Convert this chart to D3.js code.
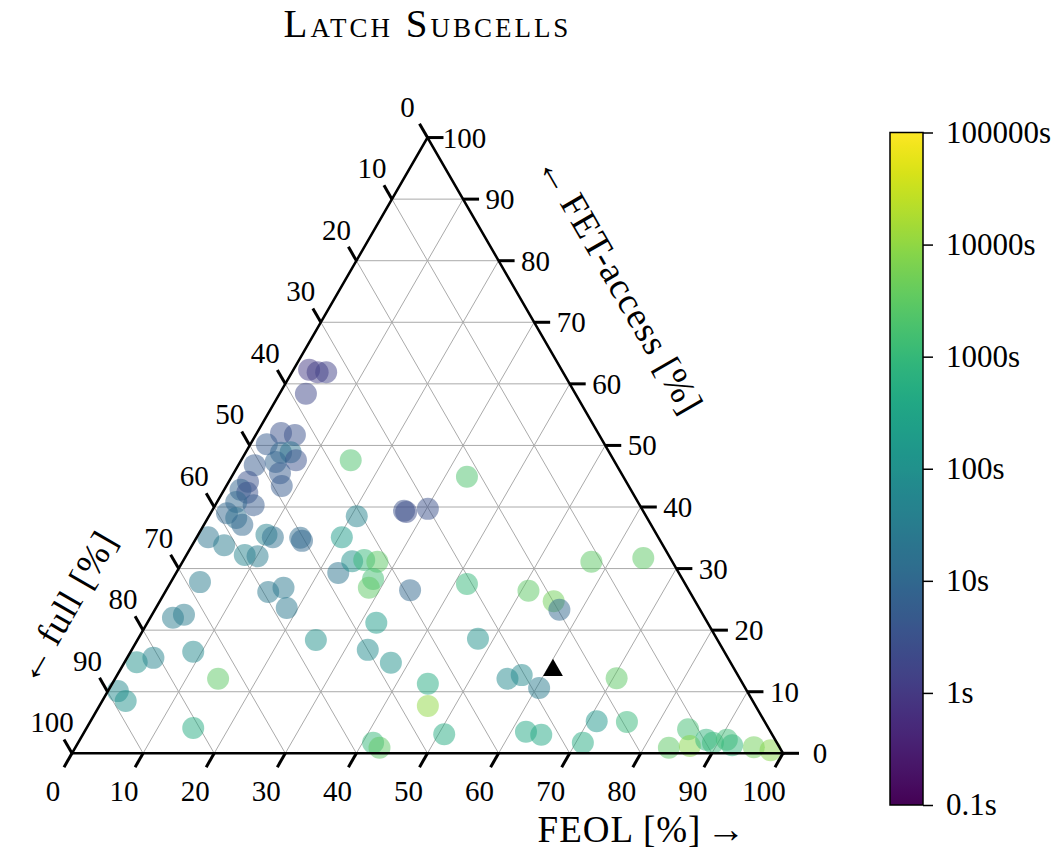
<!DOCTYPE html>
<html>
<head>
<meta charset="utf-8">
<script src="https://cdnjs.cloudflare.com/ajax/libs/d3/7.8.5/d3.min.js"></script>
<style>
  body { margin: 0; background: #fff; }
  text { font-family: "Liberation Serif", "DejaVu Serif", serif; fill: #000; }
  .arrow { font-family: "Liberation Serif", serif; font-size: 39px; }
</style>
</head>
<body>
<div id="chart"></div>
<script>
// ternary coordinates in percent, full = 100 - FEOL - FET-access
const feol = [2.2, 3.6, 4.8, 3.7, 3.4, 5.5, 2.3, 5.0, 6.3, 7.7, 5.0, 2.3, 6.5, 7.8, 2.7, 2.3, 3.5, 5.4, 2.7, 2.3,
  4.0, 5.4, 1.6, 4.5, 8.2, 10.1, 9.6, 10.7, 14.6, 15.1, 15.4, 33.1, 27.0, 27.4, 30.2, 20.8, 20.4, 22.8, 23.8, 25.4,
  27.4, 28.2, 28.3, 34.3, 41.8, 51.0, 55.4, 56.9, 57.5, 64.5, 32.2, 25.1, 33.2, 37.5, 47.8, 44.4, 46.2, 55.2, 56.9, 60.4,
  50.8, 62.1, 64.5, 41.5, 42.8, 4.1, 3.2, 4.5, 14.5, 16.3, 18.4, 1.7, 3.7, 8.8, 14.5, 1.4, 3.3, 15.0, 70.5, 71.2,
  75.5, 71.0, 84.7, 83.5, 86.3, 88.1, 89.3, 91.0, 92.2, 95.4, 98.0];
const fetAccess = [62.3, 61.9, 61.9, 58.4, 52.0, 51.7, 50.2, 48.8, 48.9, 47.6, 47.3, 46.8, 45.5, 43.4, 44.1, 42.8, 42.3, 40.3, 40.8, 39.0,
  38.2, 37.1, 35.1, 33.8, 32.2, 32.0, 35.5, 35.1, 35.0, 34.5, 47.6, 44.9, 39.4, 39.2, 39.7, 38.5, 35.1, 29.3, 31.2, 31.4,
  31.1, 28.3, 26.9, 26.5, 27.5, 26.4, 24.7, 23.3, 31.1, 31.7, 21.2, 18.4, 16.8, 14.7, 18.6, 11.3, 7.7, 12.1, 12.7, 10.6,
  3.1, 3.5, 3.0, 1.7, 0.9, 27.8, 22.0, 22.5, 26.2, 26.9, 23.6, 14.8, 15.5, 16.5, 12.1, 10.1, 8.5, 4.1, 12.2, 5.2,
  5.1, 1.7, 3.9, 0.9, 1.2, 2.2, 1.7, 2.2, 1.3, 1.0, 0.5];
// runtime in seconds
const runtime = [1, 1.2, 1.5, 2, 3, 3, 5, 10, 20, 3, 8, 5, 5, 5, 3, 8, 3, 5, 10, 10,
  15, 10, 20, 30, 50, 30, 40, 15, 12, 10, 2000, 2000, 3, 2.5, 3, 50, 200, 20, 100, 1000,
  3000, 1500, 3000, 10, 1000, 3000, 5000, 10, 3000, 3000, 200, 100, 80, 100, 100, 500, 10000, 70, 70, 30,
  500, 400, 400, 1000, 3000, 30, 30, 30, 25, 25, 25, 100, 50, 70, 3000, 70, 100, 500, 3000, 150,
  1000, 500, 1500, 3000, 8000, 800, 1000, 1200, 900, 5000, 8000];

const markerFeol = [60.9];
const markerFet = [13.5];

const gridValues = [10, 20, 30, 40, 50, 60, 70, 80, 90];
const tickValues = [0, 10, 20, 30, 40, 50, 60, 70, 80, 90, 100];
const cbarTicks = [0.1, 1, 10, 100, 1000, 10000, 100000];
const cbarLabels = ["0.1s", "1s", "10s", "100s", "1000s", "10000s", "100000s"];

const width = 1058, height = 852;
const side = 711;
const origin = { x: 72, y: 753.3 };
const triH = side * Math.sqrt(3) / 2;

const svg = d3.select("#chart")
  .append("svg")
  .attr("width", width)
  .attr("height", height);

const xScale = d3.scaleLinear().domain([0, 100]).range([origin.x, origin.x + side]);
const yScale = d3.scaleLinear().domain([0, 100]).range([origin.y, origin.y - triH]);

// (FEOL, FET-access) -> pixel
const project = (b, r) => [xScale(b + r / 2), yScale(r)];

const color = d3.scaleSequentialLog(d3.interpolateViridis).domain([0.1, 100000]);

// grid
const gridLines = [];
gridValues.forEach(v => {
  gridLines.push([project(v, 0), project(v, 100 - v)]);          // const FEOL
  gridLines.push([project(0, v), project(100 - v, v)]);          // const FET-access
  gridLines.push([project(100 - v, 0), project(0, 100 - v)]);    // const full
});

svg.append("g")
  .selectAll("line")
  .data(gridLines)
  .enter()
  .append("line")
  .attr("x1", d => d[0][0]).attr("y1", d => d[0][1])
  .attr("x2", d => d[1][0]).attr("y2", d => d[1][1])
  .attr("stroke", "#aaaaaa")
  .attr("stroke-width", 1);

// points
const points = feol.map((b, i) => ({ b, r: fetAccess[i], t: runtime[i] }));

svg.append("g")
  .selectAll("circle")
  .data(points)
  .enter()
  .append("circle")
  .attr("cx", d => project(d.b, d.r)[0])
  .attr("cy", d => project(d.b, d.r)[1])
  .attr("r", 11)
  .attr("fill", d => color(d.t))
  .attr("fill-opacity", 0.5);

// boundary
const corners = [project(0, 0), project(100, 0), project(0, 100)];
svg.append("path")
  .attr("d", d3.line()(corners) + "Z")
  .attr("fill", "none")
  .attr("stroke", "#000")
  .attr("stroke-width", 2.5)
  .attr("stroke-linejoin", "miter");

// ticks
const tickLen = 16;
const c60 = 0.5, s60 = Math.sqrt(3) / 2;
const axes = [
  // bottom: FEOL
  { pos: v => project(v, 0), dir: [-c60, s60], lab: [-19, 38] },
  // right: FET-access
  { pos: v => project(100 - v, v), dir: [1, 0], lab: [37, 0] },
  // left: full
  { pos: v => project(0, 100 - v), dir: [-c60, -s60], lab: [-20, -31] }
];

axes.forEach(ax => {
  const g = svg.append("g");
  g.selectAll("line")
    .data(tickValues)
    .enter()
    .append("line")
    .attr("x1", v => ax.pos(v)[0])
    .attr("y1", v => ax.pos(v)[1])
    .attr("x2", v => ax.pos(v)[0] + ax.dir[0] * tickLen)
    .attr("y2", v => ax.pos(v)[1] + ax.dir[1] * tickLen)
    .attr("stroke", "#000")
    .attr("stroke-width", 3);
  g.selectAll("text")
    .data(tickValues)
    .enter()
    .append("text")
    .attr("x", v => ax.pos(v)[0] + ax.lab[0])
    .attr("y", v => ax.pos(v)[1] + ax.lab[1])
    .attr("text-anchor", "middle")
    .attr("dominant-baseline", "central")
    .style("font-size", "29px")
    .text(v => v);
});

// reference marker
svg.append("g")
  .selectAll("path")
  .data(markerFeol.map((b, i) => ({ b, r: markerFet[i] })))
  .enter()
  .append("path")
  .attr("d", d3.symbol().type(d3.symbolTriangle).size(170))
  .attr("transform", d => `translate(${project(d.b, d.r)[0]},${project(d.b, d.r)[1]})`)
  .attr("fill", "#000");

// titles
svg.append("text")
  .attr("x", xScale(50))
  .attr("y", 37)
  .attr("text-anchor", "middle")
  .style("font-size", "39px")
  .style("letter-spacing", "3px")
  .style("font-variant", "small-caps")
  .text("Latch Subcells");

const feolLabel = svg.append("text")
  .attr("x", 642)
  .attr("y", 842)
  .attr("text-anchor", "middle")
  .style("font-size", "37px")
  .style("letter-spacing", "1px");
feolLabel.append("tspan").text("FEOL [%]");
feolLabel.append("tspan").attr("class", "arrow").attr("dx", 5).text("\u2192");

const fetLabel = svg.append("text")
  .attr("transform", "translate(621,284) rotate(60)")
  .attr("text-anchor", "middle")
  .attr("dominant-baseline", "central")
  .style("font-size", "37px")
  .style("letter-spacing", "1px");
fetLabel.append("tspan").attr("class", "arrow").text("\u2190");
fetLabel.append("tspan").attr("dx", 5).text("FET-access [%]");

const fullLabel = svg.append("text")
  .attr("transform", "translate(65,607) rotate(-60)")
  .attr("text-anchor", "middle")
  .attr("dominant-baseline", "central")
  .style("font-size", "37px")
  .style("letter-spacing", "1px");
fullLabel.append("tspan").attr("class", "arrow").text("\u2190");
fullLabel.append("tspan").attr("dx", 5).text("full [%]");

// colorbar
const cbar = { x: 890, w: 33, top: 132.5, bottom: 805 };
const cbarScale = d3.scaleLog().domain([0.1, 100000]).range([cbar.bottom, cbar.top]);

const grad = svg.append("defs")
  .append("linearGradient")
  .attr("id", "viridis")
  .attr("x1", 0).attr("y1", 1).attr("x2", 0).attr("y2", 0);

grad.selectAll("stop")
  .data(d3.range(0, 1.0001, 0.02))
  .enter()
  .append("stop")
  .attr("offset", d => d)
  .attr("stop-color", d => d3.interpolateViridis(d));

svg.append("rect")
  .attr("x", cbar.x)
  .attr("y", cbar.top)
  .attr("width", cbar.w)
  .attr("height", cbar.bottom - cbar.top)
  .attr("fill", "url(#viridis)")
  .attr("stroke", "#000")
  .attr("stroke-width", 1.5);

const cbarAxis = d3.axisRight(cbarScale)
  .tickValues(cbarTicks)
  .tickFormat((d, i) => cbarLabels[i])
  .tickSize(10)
  .tickPadding(13);

const cg = svg.append("g")
  .attr("transform", `translate(${cbar.x + cbar.w},0)`)
  .call(cbarAxis);
cg.select(".domain").remove();
cg.selectAll(".tick line").attr("stroke", "#000").attr("stroke-width", 1.5);
cg.selectAll(".tick text")
  .attr("fill", "#000")
  .style("font-family", "'Liberation Serif', 'DejaVu Serif', serif")
  .style("font-size", "31px");
</script>
</body>
</html>
